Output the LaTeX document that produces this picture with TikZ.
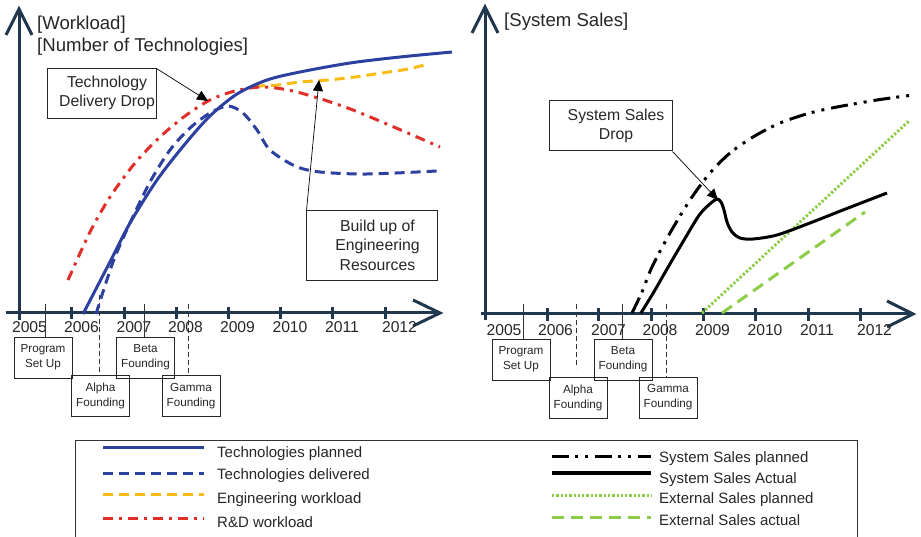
\documentclass[tikz,border=0pt]{standalone}
\usepackage{fontspec}
\setmainfont{Liberation Sans}
\usetikzlibrary{arrows.meta}
\definecolor{axisblue}{RGB}{31,56,78}
\definecolor{techblue}{RGB}{44,64,160}
\definecolor{engyellow}{RGB}{250,188,20}
\definecolor{rdred}{RGB}{226,46,40}
\definecolor{extgreen}{RGB}{140,204,70}

\begin{document}
\begin{tikzpicture}[x=1pt,y=-1pt,join=miter, % Workload and Sales Timelines
  axis/.style={axisblue,line width=3pt},
  tplan/.style={techblue,line width=3pt},
  tdel/.style={techblue,line width=3pt,dash pattern=on 10pt off 6pt},
  engw/.style={engyellow,line width=3pt,dash pattern=on 10pt off 6pt},
  rdw/.style={rdred,line width=3pt,dash pattern=on 10pt off 6pt on 3pt off 6pt},
  ssplan/.style={black,line width=3pt,dash pattern=on 17pt off 6pt on 3pt off 7pt on 3pt off 7pt},
  ssact/.style={black,line width=3pt},
  extplan/.style={extgreen,line width=3pt,dash pattern=on 2.3pt off 2pt},
  extact/.style={extgreen,line width=3pt,dash pattern=on 12pt off 7pt},
  marker/.style={black!80,line width=0.8pt},
  dmarker/.style={marker,dash pattern=on 5pt off 3pt},
  callbox/.style={draw=black!85,line width=1pt},
  calltext/.style={font=\fontsize{15.8}{19.5}\selectfont,align=center,text=black!85},
  callarrow/.style={-{Triangle[length=11pt,width=10pt]},black,line width=0.7pt},
  evbox/.style={draw=black!85,line width=0.9pt,minimum width=58pt,minimum height=41pt,inner sep=0pt,
    align=center,font=\fontsize{11.7}{15}\selectfont,text=black!85},
  year/.style={font=\fontsize{15.7}{18}\selectfont,text=black!85,anchor=base},
  title/.style={font=\fontsize{18.6}{22}\selectfont,text=black!85,anchor=base west,inner sep=0pt},
  legtext/.style={font=\fontsize{15}{18}\selectfont,text=black!85,anchor=base west,inner sep=0pt}]
\useasboundingbox (0,0) rectangle (921,537);

% left panel: axes
\draw[axis] (19,320)--(19,10);
\draw[axis] (6,35)--(19,9)--(32,35);
\draw[axis] (6,313)--(439,313);
\draw[axis] (413,300)--(440,313)--(413,326);
\draw[axis] (71,307)--(71,319) (124,307)--(124,319) (176,307)--(176,319) (228,307)--(228,319)
  (280,307)--(280,319) (332,307)--(332,319) (385,307)--(385,319);
\fill[black]
  (29.5,333) node[year] (ly05) {2005} (81.5,333) node[year] (ly06) {2006}
  (134,333) node[year] (ly07) {2007} (185.5,333) node[year] (ly08) {2008}
  (237.5,333) node[year] (ly09) {2009} (290,333) node[year] (ly10) {2010}
  (342,333) node[year] (ly11) {2011} (399.5,333) node[year] (ly12) {2012};
\node[title] (lt1) at (37,30) {[Workload]};
\node[title] (lt2) at (37,52) {[Number of Technologies]};

% left panel: founding events
\node[evbox] (lprog) at (43,357.5) {Program\\Set Up};
\node[evbox] (lalpha) at (100.5,396) {Alpha\\Founding};
\node[evbox] (lbeta) at (145.5,357.5) {Beta\\Founding};
\node[evbox] (lgamma) at (191,396) {Gamma\\Founding};
\draw[marker] (45,304)--(45,304 |- lprog.north);
\draw[dmarker] (99,295)--(99,295 |- lalpha.north);
\draw[marker] (144,304)--(144,304 |- lbeta.north);
\draw[dmarker] (188,304)--(188,304 |- lgamma.north);

% left panel: curves
\draw[engw] plot[smooth] coordinates {(255,86) (278,85) (300,82) (328,80) (355,77) (382,73) (408,69) (428,64)};
\draw[rdw] plot[smooth] coordinates {(68,280) (90,232) (110,197) (135,163) (160,137) (185,116) (210,100)
  (235,91) (263,87) (297,92) (353,110) (440,147)};
\draw[tdel] plot[smooth] coordinates {(96,314) (113,262) (130,223) (150,182) (170,150) (190,128) (210,113)
  (228,106) (243,113) (257,130) (270,150) (295,166) (320,172) (367,174) (437,171)};
\draw[tplan] plot[smooth] coordinates {(83,314) (112,258) (130,223) (157,180) (185,144) (210,116) (237,94)
  (267,80) (300,72) (350,63) (400,57) (452,52)};

% left panel: callouts
\node[callbox,minimum width=109pt,minimum height=50pt] (tdd) at (101.5,94) {};
\node[calltext] (tddtext) at ([xshift=5.5pt,yshift=1pt]tdd.center) {Technology\\Delivery Drop};
\coordinate (tddtip) at (208,101);
\draw[callarrow] (tdd.north east)--(tddtip);
\node[callbox,minimum width=131pt,minimum height=70pt] (bur) at (371.5,246) {};
\node[calltext] (burtext) at ([xshift=6pt,yshift=1pt]bur.center) {Build up of\\Engineering\\Resources};
\coordinate (burtip) at (319,80);
\draw[callarrow] ([xshift=1pt]bur.north west)--(burtip);

% right panel: axes
\draw[axis] (485,320)--(485,8);
\draw[axis] (472,33)--(485,7)--(498,33);
\draw[axis] (481,314)--(912,314);
\draw[axis] (887,301)--(913,314)--(887,327);
\draw[axis] (547,308)--(547,321) (598,308)--(598,321) (651,308)--(651,321) (703,308)--(703,321)
  (755,308)--(755,321) (808,308)--(808,321) (860,308)--(860,321);
\fill[black]
  (504,335) node[year] (ry05) {2005} (555.5,335) node[year] (ry06) {2006}
  (608.5,335) node[year] (ry07) {2007} (660,335) node[year] (ry08) {2008}
  (712.5,335) node[year] (ry09) {2009} (765,335) node[year] (ry10) {2010}
  (817,335) node[year] (ry11) {2011} (874.5,335) node[year] (ry12) {2012};
\node[title] (rt1) at (504,27) {[System Sales]};

% right panel: founding events
\node[evbox] (rprog) at (521,359.5) {Program\\Set Up};
\node[evbox] (ralpha) at (578,397.5) {Alpha\\Founding};
\node[evbox] (rbeta) at (623,359.5) {Beta\\Founding};
\node[evbox] (rgamma) at (668,397.5) {Gamma\\Founding};
\draw[marker] (523,304)--(523,304 |- rprog.north);
\draw[dmarker] (576,304)--(576,368);
\draw[marker] (622,304)--(622,304 |- rbeta.north);
\draw[dmarker] (666,304)--(666,304 |- rgamma.north);

% right panel: curves
\draw[extplan] (702,313)--(910,120);
\draw[extact] (722,313)--(865,212);
\draw[ssplan] plot[smooth] coordinates {(632,313) (642,292) (652,267) (670,233) (690,200) (710,173)
  (730,153) (753,137) (780,123) (810,113) (837,107) (877,100) (913,95)};
\draw[ssact] plot[smooth] coordinates {(641,313) (655,290) (667,269) (687,235) (700,214) (711,203)
  (717,199) (721,202) (724,210) (727,222) (732,232) (740,238) (753,239) (777,235) (810,223) (843,210) (887,193)};

% right panel: callout
\node[callbox,minimum width=123pt,minimum height=50pt] (ssd) at (610.5,126) {};
\node[calltext] (ssdtext) at ([xshift=5.5pt]ssd.center) {System Sales\\Drop};
\coordinate (ssdtip) at (718,200);
\draw[callarrow] (ssd.south east)--(ssdtip);

% legend
\draw[black!80,line width=1pt] (75,440) rectangle (857,560);
\draw[tplan] (103,447)--(204,447);
\draw[tdel] (103,473)--(204,473);
\draw[engw] (103,494)--(204,494);
\draw[rdw] (103,518)--(204,518);
\node[legtext] (lg1) at (217,457) {Technologies planned};
\node[legtext] (lg2) at (217,479) {Technologies delivered};
\node[legtext] (lg3) at (217,503) {Engineering workload};
\node[legtext] (lg4) at (217,527) {R\&D workload};
\draw[ssplan] (552,456)--(651,456);
\draw[ssact,line width=4pt] (552,473)--(651,473);
\draw[extplan] (552,495)--(651,495);
\draw[extact] (552,517)--(651,517);
\node[legtext] (lg5) at (659,462) {System Sales planned};
\node[legtext] (lg6) at (659,483) {System Sales Actual};
\node[legtext] (lg7) at (659,503) {External Sales planned};
\node[legtext] (lg8) at (659,525) {External Sales actual};
\end{tikzpicture}
\end{document}
